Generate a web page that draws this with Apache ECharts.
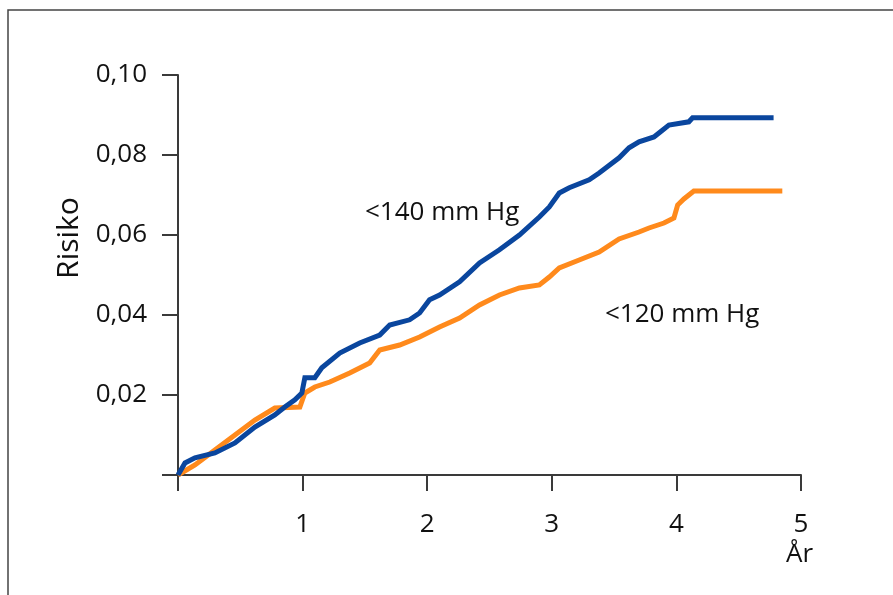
<!DOCTYPE html>
<html>
<head>
<meta charset="utf-8">
<script src="https://cdn.jsdelivr.net/npm/echarts@6/dist/echarts.min.js"></script>
<style>
html,body{margin:0;padding:0;background:#fff;}
#c{width:893px;height:595px;}
</style>
</head>
<body>
<div id="c"></div>
<script>
// Years of follow-up and cumulative risk
var blueYears = [0, 0.056, 0.136, 0.296, 0.457, 0.617, 0.777, 0.857, 0.938, 0.994, 1.018, 1.098, 1.154, 1.298, 1.458, 1.619, 1.699, 1.859, 1.939, 2.019, 2.099, 2.26, 2.42, 2.58, 2.74, 2.90, 2.98, 3.06, 3.14, 3.30, 3.38, 3.54, 3.62, 3.70, 3.82, 3.86, 3.94, 4.10, 4.13, 4.78];
var blueRisk  = [0, 0.003, 0.0043, 0.0055, 0.008, 0.012, 0.015, 0.017, 0.0188, 0.0205, 0.0243, 0.0243, 0.0268, 0.0305, 0.033, 0.035, 0.0375, 0.0388, 0.0405, 0.0438, 0.045, 0.0483, 0.053, 0.0563, 0.060, 0.0645, 0.067, 0.0705, 0.0718, 0.0738, 0.0755, 0.0793, 0.0818, 0.0833, 0.0845, 0.0855, 0.0875, 0.0883, 0.0893, 0.0893];

var orangeYears = [0, 0.136, 0.296, 0.457, 0.617, 0.777, 0.978, 1.018, 1.098, 1.218, 1.378, 1.538, 1.619, 1.779, 1.939, 2.099, 2.26, 2.42, 2.58, 2.74, 2.90, 2.98, 3.06, 3.22, 3.38, 3.54, 3.70, 3.78, 3.90, 3.98, 4.01, 4.06, 4.14, 4.85];
var orangeRisk  = [0, 0.0025, 0.00625, 0.010, 0.01375, 0.01675, 0.017, 0.0205, 0.022, 0.02325, 0.0255, 0.028, 0.03125, 0.0325, 0.0345, 0.037, 0.03925, 0.0425, 0.045, 0.04675, 0.0475, 0.0495, 0.05175, 0.05375, 0.05575, 0.059, 0.06075, 0.06175, 0.063, 0.06425, 0.0675, 0.069, 0.071, 0.071];

var seriesNames = ['<140 mm Hg', '<120 mm Hg'];
var yTicks = [0, 0.02, 0.04, 0.06, 0.08, 0.10];
var xTicks = [0, 1, 2, 3, 4, 5];

function pairs(xs, ys){ return xs.map(function(x,i){ return [x, ys[i]]; }); }

var FONT = '"Open Sans", "Noto Sans", sans-serif';
var chart = echarts.init(document.getElementById('c'));
chart.setOption({
  animation: false,
  backgroundColor: '#fff',
  grid: { left: 178, top: 75, right: 92, bottom: 120, containLabel: false },
  xAxis: {
    type: 'value', min: 0, max: 5, interval: 1,
    axisLine: { show: true, onZero: false, lineStyle: { color: '#3a3a3a', width: 2 } },
    axisTick: { show: true, length: 16, lineStyle: { color: '#3a3a3a', width: 2 } },
    axisLabel: { margin: 37, fontSize: 26, fontFamily: FONT, color: '#111',
      formatter: function(v){ return v === 0 ? '' : String(v); } },
    splitLine: { show: false }
  },
  yAxis: {
    type: 'value', min: 0, max: 0.10, interval: 0.02,
    axisLine: { show: true, onZero: false, lineStyle: { color: '#3a3a3a', width: 2 } },
    axisTick: { show: true, length: 16, lineStyle: { color: '#3a3a3a', width: 2 } },
    axisLabel: { margin: 31, fontSize: 26, fontFamily: FONT, color: '#111',
      formatter: function(v){ return v === 0 ? '' : v.toFixed(2).replace('.', ','); } },
    splitLine: { show: false }
  },
  series: [
    { name: seriesNames[0], type: 'line', data: pairs(blueYears, blueRisk), showSymbol: false,
      lineStyle: { color: '#0a469e', width: 5, join: 'miter' }, z: 3 },
    { name: seriesNames[1], type: 'line', data: pairs(orangeYears, orangeRisk), showSymbol: false,
      lineStyle: { color: '#ff8a1c', width: 5, join: 'miter' }, z: 2 }
  ],
  graphic: [
    { type: 'rect', shape: { x: 8, y: 10, width: 1000, height: 1000 },
      style: { fill: 'none', stroke: '#444', lineWidth: 1.5 }, silent: true, z: -1 },
    { type: 'text', x: 69, y: 238, rotation: Math.PI / 2,
      style: { text: 'Risiko', font: '30px ' + FONT, fill: '#111', align: 'center', verticalAlign: 'middle' } },
    { type: 'text', left: 365, top: 200,
      style: { text: seriesNames[0], font: '26px ' + FONT, fill: '#111' } },
    { type: 'text', left: 605, top: 302,
      style: { text: seriesNames[1], font: '26px ' + FONT, fill: '#111' } },
    { type: 'text', left: 786, top: 542,
      style: { text: 'År', font: '26px ' + FONT, fill: '#111' } }
  ]
});
</script>
</body>
</html>
